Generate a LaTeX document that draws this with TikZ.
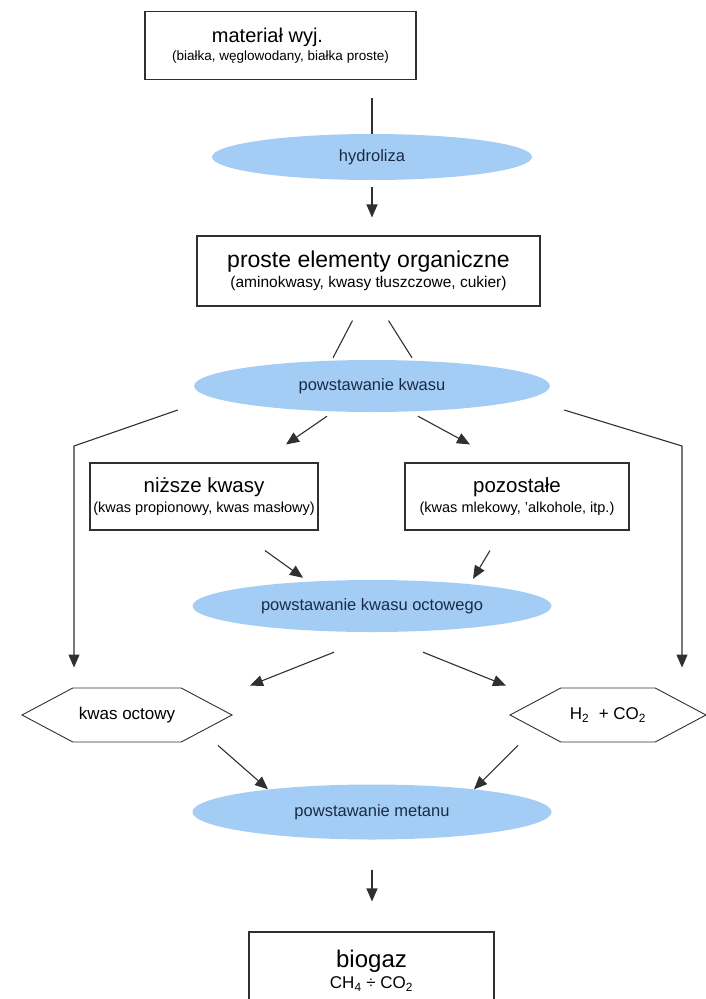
\documentclass[tikz,border=0pt]{standalone}
\usepackage{fontspec}
\setmainfont{Liberation Sans}
\usetikzlibrary{shapes.geometric,shapes.symbols,positioning,calc,arrows.meta}

\definecolor{procblue}{HTML}{A3CDF4}
\definecolor{proctext}{HTML}{1C2B45}
\definecolor{linegray}{HTML}{303030}

\tikzset{
  stagebox/.style={draw=linegray, line width=1.1pt, align=center, inner sep=2pt},
  process/.style={ellipse, fill=procblue, text=proctext, inner sep=0pt,
    minimum width=356, minimum height=52, font=\fontsize{16.5}{18}\selectfont},
  product/.style={signal, signal to=west and east, signal pointer angle=56,
    draw=linegray, line width=0.9pt, minimum height=54, inner sep=0pt,
    font=\fontsize{17}{19}\selectfont},
  link/.style={draw=linegray, line width=1.1pt},
  flow/.style={link, -{Triangle[length=13pt,width=11pt]}}
}

\begin{document}
\begin{tikzpicture}[x=1pt,y=-1pt]
    \useasboundingbox (0,0) rectangle (706,999);

    % Boxes and stages
    \node[stagebox, minimum width=271, minimum height=68] (mat) at (280.5,45.5)
        {{\fontsize{20}{22}\selectfont materiał wyj.\hspace*{26pt}}\\[3pt]
         {\fontsize{13.5}{15}\selectfont (białka, węglowodany, białka proste)}};
    \node[process, minimum width=320, minimum height=46] (hyd) at (372,157) {hydroliza};
    \node[stagebox, minimum width=343, minimum height=70] (pro) at (368.5,271)
        {{\fontsize{23}{24}\selectfont proste elementy organiczne}\\[3pt]
         {\fontsize{15.5}{17}\selectfont (aminokwasy, kwasy tłuszczowe, cukier)}};
    \node[process] (kw) at (372,386) {powstawanie kwasu};
    \node[stagebox, minimum width=228, minimum height=67] (niz) at (204,496.5)
        {{\fontsize{20.5}{22}\selectfont niższe kwasy}\\[4pt]
         {\fontsize{14.5}{16}\selectfont (kwas propionowy, kwas masłowy)}};
    \node[stagebox, minimum width=224, minimum height=67] (poz) at (517,496.5)
        {{\fontsize{20.5}{22}\selectfont pozostałe}\\[4pt]
         {\fontsize{14.5}{16}\selectfont (kwas mlekowy, 'alkohole, itp.)}};
    \node[process, minimum width=359] (oct) at (372,606) {powstawanie kwasu octowego};
    \node[product, minimum width=210] (ko) at (127,715) {kwas octowy};
    \node[product, minimum width=196] (h2) at (608,715) {H\textsubscript{2} \ + CO\textsubscript{2}};
    \node[process, minimum width=359, minimum height=55] (met) at (372,812) {powstawanie metanu};
    \node[stagebox, minimum width=245, minimum height=78] (bio) at (371.5,971)
        {{\fontsize{24}{26}\selectfont biogaz}\\[3pt]
         {\fontsize{17}{19}\selectfont CH\textsubscript{4} ÷ CO\textsubscript{2}}};

    % Hydrolysis
    \draw[link, shorten <=18] (hyd.north |- mat.south) -- (hyd.north);
    \draw[flow, shorten <=7, shorten >=18] (hyd.south) -- (hyd.south |- pro.north);

    % Acid formation
    \draw[link] ($(pro.south)+(-16,14)$) -- ($(kw.north)+(-39,-2)$);
    \draw[link] ($(pro.south)+(20,14)$) -- ($(kw.north)+(40,-2)$);
    \coordinate (lbend) at (74,446);
    \coordinate (rbend) at (682,446);
    \draw[flow, shorten >=20] ($(kw.west)+(-16,24)$) -- (lbend) -- (lbend |- ko.north);
    \draw[flow, shorten >=20] ($(kw.east)+(14,24)$) -- (rbend) -- (rbend |- h2.north);
    \draw[flow] ($(kw.south)+(-45,4)$) -- ($(niz.north)+(82,-18)$);
    \draw[flow] ($(kw.south)+(46,4)$) -- ($(poz.north)+(-47,-18)$);

    % Acetic acid formation
    \draw[flow] ($(niz.south)+(61,20)$) -- ($(oct.north)+(-69,-2)$);
    \draw[flow] ($(poz.south)+(-27,20)$) -- ($(oct.north)+(101,-1)$);
    \draw[flow] ($(oct.south)+(-38,20)$) -- ($(ko.north)+(123,-2)$);
    \draw[flow] ($(oct.south)+(51,20)$) -- ($(h2.north)+(-102,-2)$);

    % Methane formation
    \draw[flow] ($(ko.south)+(91,3)$) -- ($(met.north)+(-104,5)$);
    \draw[flow] ($(h2.south)+(-90,3)$) -- ($(met.north)+(102,5)$);
    \draw[flow, shorten <=30, shorten >=30] (met.south) -- (met.south |- bio.north);
\end{tikzpicture}
\end{document}
